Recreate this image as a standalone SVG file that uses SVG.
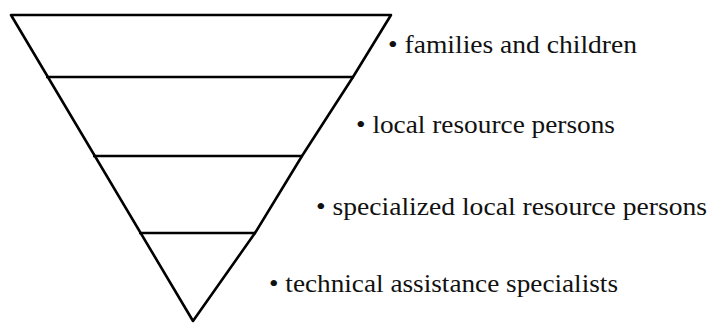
<svg xmlns="http://www.w3.org/2000/svg" width="709" height="323" viewBox="0 0 709 323">
  <style>
    .edge { fill: none; stroke: #000; stroke-width: 2.6; stroke-linejoin: round; stroke-linecap: round; }
    .tier { fill: none; stroke: #000; stroke-width: 2.6; stroke-linecap: butt; }
    .label { font-family: 'Liberation Serif', Tinos, 'Times New Roman', 'Noto Serif', 'DejaVu Serif', FreeSerif, serif; font-size: 26px; fill: #111; }
  </style>
  <rect width="709" height="323" fill="#fff"/>

  <!-- inverted triangle outline -->
  <g id="pyramid">
    <path class="edge" d="M11,15 L391,15 L353,77 L302,156 L255,233 L193,321 Z"/>
  </g>

  <!-- dividing lines between levels -->
  <g id="dividers">
    <line class="tier" x1="46" y1="77" x2="354" y2="77"/>
    <line class="tier" x1="93" y1="156" x2="303" y2="156"/>
    <line class="tier" x1="139" y1="233" x2="256" y2="233"/>
  </g>

  <g id="level-1">
    <text class="label" x="388" y="53" textLength="249" lengthAdjust="spacingAndGlyphs">• families and children</text>
  </g>
  <g id="level-2">
    <text class="label" x="356" y="133" textLength="259" lengthAdjust="spacingAndGlyphs">• local resource persons</text>
  </g>
  <g id="level-3">
    <text class="label" x="316" y="215" textLength="391" lengthAdjust="spacingAndGlyphs">• specialized local resource persons</text>
  </g>
  <g id="level-4">
    <text class="label" x="269" y="292" textLength="349" lengthAdjust="spacingAndGlyphs">• technical assistance specialists</text>
  </g>
</svg>
